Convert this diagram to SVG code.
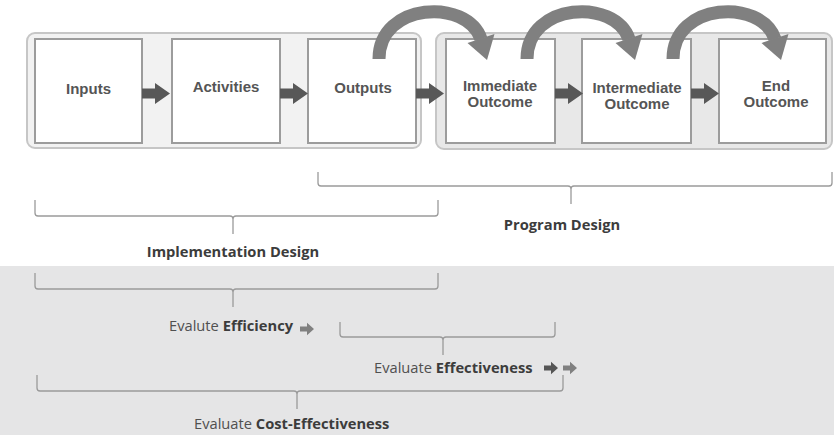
<svg xmlns="http://www.w3.org/2000/svg" xmlns:xlink="http://www.w3.org/1999/xlink" width="834" height="435" viewBox="0 0 834 435">
<style>
.outer{fill:#f2f2f2;stroke:#c6c6c6;stroke-width:2}
.outer2{fill:#e8e8e8;stroke:#c6c6c6;stroke-width:2}
.box{fill:#ffffff;stroke:#9c9c9c;stroke-width:2}
.bt{font-family:"Liberation Sans",Arial,sans-serif;font-weight:bold;font-size:15px;fill:#555555;text-anchor:middle}
.brace{fill:none;stroke:#9a9a9a;stroke-width:1.3}
.lbl{font-family:"Open Sans","Liberation Sans",sans-serif;font-size:14.7px;fill:#505050}
.b{font-weight:bold;fill:#3c3c3c}
.blk{fill:#585858}
.arcs{fill:none;stroke:#808080;stroke-width:13}
.arch{fill:#808080}
</style>
<defs>
<polygon id="blk" points="0,-5 13,-5 13,-10.5 28,0 13,10.5 13,5 0,5"/>
<polygon id="sm" points="0,-2.6 7,-2.6 7,-6.2 14,0 7,6.2 7,2.6 0,2.6"/>
<g id="arc">
<path class="arcs" d="M0,0 C0,-57 88,-61 102,-20"/>
<polygon class="arch" points="88.5,-16 115.5,-25 108,1"/>
</g>
</defs>
<rect x="0" y="266" width="834" height="169" fill="#e5e5e6"/>
<rect class="outer" x="27" y="33" width="394" height="115" rx="8"/>
<rect class="outer2" x="436" y="33" width="396" height="116" rx="8"/>
<g id="inputs"><rect class="box" x="35" y="39" width="107" height="104"/><text class="bt" x="88.5" y="94">Inputs</text></g>
<g id="activities"><rect class="box" x="172" y="39" width="108" height="104"/><text class="bt" x="226" y="92">Activities</text></g>
<g id="outputs"><rect class="box" x="308" y="39" width="108" height="104"/><text class="bt" x="363" y="93">Outputs</text></g>
<g id="immediate"><rect class="box" x="446" y="39" width="109" height="104"/><text class="bt" x="500" y="91">Immediate</text><text class="bt" x="500" y="107">Outcome</text></g>
<g id="intermediate"><rect class="box" x="582" y="39" width="109" height="104"/><text class="bt" x="637" y="93">Intermediate</text><text class="bt" x="637" y="109">Outcome</text></g>
<g id="end"><rect class="box" x="719" y="39" width="107" height="104"/><text class="bt" x="776" y="91">End</text><text class="bt" x="776" y="107">Outcome</text></g>
<g id="connectors">
<use xlink:href="#blk" class="blk" x="142" y="93.5"/>
<use xlink:href="#blk" class="blk" x="280" y="93.5"/>
<use xlink:href="#blk" class="blk" x="416" y="93.5"/>
<use xlink:href="#blk" class="blk" x="555" y="93.5"/>
<use xlink:href="#blk" class="blk" x="691" y="93.5"/>
<use xlink:href="#arc" x="379" y="59"/>
<use xlink:href="#arc" x="527" y="59"/>
<use xlink:href="#arc" x="673" y="59"/>
</g>
<g id="program-design">
<path class="brace" d="M318,172 L318,183 Q318,186 321,186 L568,186 Q571,186 571,189 L571,204 M571,189 Q571,186 574,186 L829,186 Q832,186 832,183 L832,172"/>
<text class="lbl b" x="562" y="230" text-anchor="middle">Program Design</text>
</g>
<g id="implementation-design">
<path class="brace" d="M35,200 L35,213 Q35,216 38,216 L230,216 Q233,216 233,219 L233,234 M233,219 Q233,216 236,216 L435,216 Q438,216 438,213 L438,200"/>
<text class="lbl b" x="233" y="257" text-anchor="middle">Implementation Design</text>
</g>
<g id="efficiency">
<path class="brace" d="M35,273 L35,286 Q35,289 38,289 L230,289 Q233,289 233,292 L233,307 M233,292 Q233,289 236,289 L435,289 Q438,289 438,286 L438,273"/>
<text class="lbl" x="169" y="331">Evalute <tspan class="b">Efficiency</tspan></text>
<use xlink:href="#sm" fill="#808080" x="300" y="329"/>
</g>
<g id="effectiveness">
<path class="brace" d="M340,322 L340,334 Q340,337 343,337 L440,337 Q443,337 443,340 L443,355 M443,340 Q443,337 446,337 L552,337 Q555,337 555,334 L555,322"/>
<text class="lbl" x="374" y="373">Evaluate <tspan class="b">Effectiveness</tspan></text>
<use xlink:href="#sm" fill="#555555" x="544" y="368"/>
<use xlink:href="#sm" fill="#808080" x="563" y="368"/>
</g>
<g id="cost-effectiveness">
<path class="brace" d="M37,375 L37,388 Q37,391 40,391 L294,391 Q297,391 297,394 L297,409 M297,394 Q297,391 300,391 L560,391 Q563,391 563,388 L563,375"/>
<text class="lbl" x="194" y="429">Evaluate <tspan class="b">Cost-Effectiveness</tspan></text>
</g>
</svg>
